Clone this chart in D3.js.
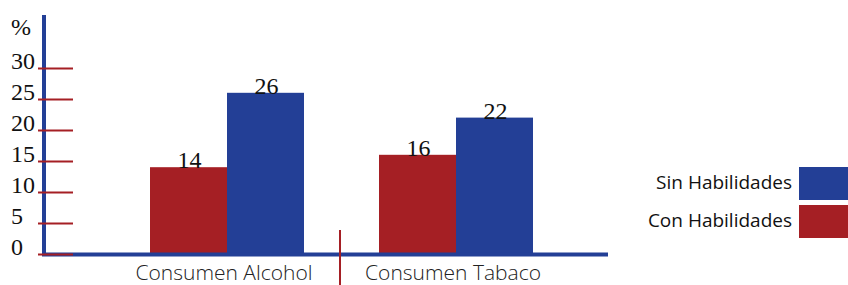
<!DOCTYPE html>
<html><head><meta charset="utf-8">
<script src="https://cdn.jsdelivr.net/npm/d3@7"></script>
<style>body{margin:0;background:#fff}svg{display:block}</style>
</head><body>
<svg id="c" width="848" height="285"></svg>
<script>
const categories = ["Consumen Alcohol", "Consumen Tabaco"];
const seriesNames = ["Con Habilidades", "Sin Habilidades"];
const conHabilidades = [14, 16];
const sinHabilidades = [26, 22];
const tickValues = [0, 5, 10, 15, 20, 25, 30];
const legendOrder = ["Sin Habilidades", "Con Habilidades"];

const RED = "#a51f24", BLUE = "#233f96";
const svg = d3.select("#c");

const y = d3.scaleLinear().domain([0, 30]).range([254, 68]);
const x0 = d3.scaleBand().domain(categories).range([112.5, 570.5]).padding(0);
const x1 = d3.scaleBand().domain(seriesNames).range([0, 154]);
const catCenter = c => x0(c) + x0.bandwidth() / 2;
const groupStart = c => catCenter(c) - 77;

const data = categories.map((c, i) => ({cat: c, vals: [
  {s: seriesNames[0], v: conHabilidades[i], col: RED},
  {s: seriesNames[1], v: sinHabilidades[i], col: BLUE}]}));

// bars
const g = svg.selectAll("g.grp").data(data).join("g").attr("class", "grp")
  .attr("transform", d => `translate(${groupStart(d.cat)},0)`);
g.selectAll("rect").data(d => d.vals).join("rect")
  .attr("x", d => x1(d.s)).attr("width", x1.bandwidth())
  .attr("y", d => y(d.v)).attr("height", d => y(0) - y(d.v))
  .attr("fill", d => d.col);
g.selectAll("text").data(d => d.vals).join("text")
  .attr("x", d => x1(d.s) + x1.bandwidth() / 2 + 1).attr("y", d => y(d.v) + 1)
  .attr("text-anchor", "middle")
  .style("font-family", "'Liberation Serif', serif").style("font-size", "24px").attr("fill", "#111")
  .text(d => d.v);

// y axis line
svg.append("line").attr("x1", 44).attr("x2", 44).attr("y1", 15).attr("y2", 256)
  .attr("stroke", BLUE).attr("stroke-width", 4);
// x axis line
svg.append("line").attr("x1", 42).attr("x2", 608).attr("y1", 254.5).attr("y2", 254.5)
  .attr("stroke", BLUE).attr("stroke-width", 4);

// ticks
const yAxis = d3.axisLeft(y).tickValues(tickValues).tickSize(0).tickFormat(d3.format("d"));
const ya = svg.append("g").call(yAxis);
ya.select(".domain").remove();
ya.selectAll(".tick text").remove();
ya.selectAll(".tick").append("line").attr("x1", 38).attr("x2", 73)
  .attr("stroke", RED).attr("stroke-width", 2);
ya.selectAll(".tick").append("text")
  .attr("x", 11).attr("y", 0).attr("dy", 0).attr("text-anchor", "start")
  .style("font-family", "'Liberation Serif', serif").style("font-size", "24px").attr("fill", "#111")
  .text(d => d);

svg.append("text").attr("x", 11).attr("y", 35)
  .style("font-family", "'Liberation Serif', serif").style("font-size", "24px").attr("fill", "#111")
  .text("%");

// category labels
svg.selectAll("text.cat").data(categories).join("text").attr("class", "cat")
  .attr("x", d => catCenter(d) - 3).attr("y", 280)
  .attr("text-anchor", "middle")
  .style("font-family", "'Open Sans', sans-serif").style("font-weight", 300).style("font-size", "21px")
  .attr("fill", "#222")
  .text(d => d);

// separator
svg.append("line").attr("x1", 340).attr("x2", 340).attr("y1", 230).attr("y2", 285)
  .attr("stroke", RED).attr("stroke-width", 2);

// legend
const leg = svg.selectAll("g.leg").data(legendOrder).join("g").attr("class", "leg")
  .attr("transform", (d, i) => `translate(0,${167 + i * 38})`);
leg.append("rect").attr("x", 799).attr("y", 0).attr("width", 49).attr("height", 33)
  .attr("fill", d => d === "Sin Habilidades" ? BLUE : RED);
leg.append("text").attr("x", 792).attr("y", 22).attr("text-anchor", "end")
  .style("font-family", "'Open Sans', sans-serif").style("font-size", "19px").attr("fill", "#111")
  .text(d => d);
</script>
</body></html>
